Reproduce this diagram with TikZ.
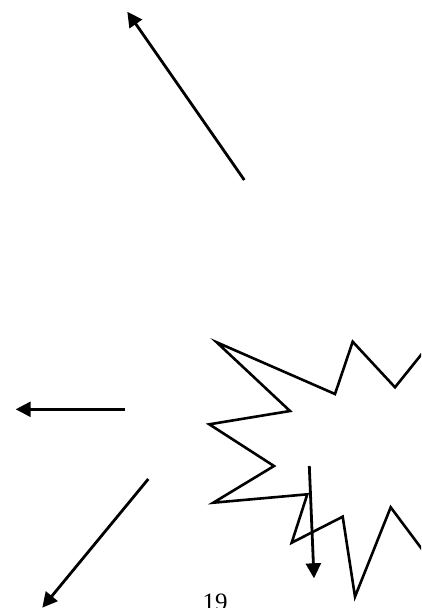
\documentclass[tikz,border=0pt]{standalone}
\usepackage{fontspec}
\setmainfont{Liberation Serif}
\usetikzlibrary{arrows.meta}

\begin{document}
\begin{tikzpicture}[
    x=1pt, y=-1pt,
    arrow/.style={-{Triangle[length=15pt, width=15pt]}, line width=2.8pt},
    burst/.style={draw, line width=2.6pt, line join=miter},
    pagenum/.style={font=\fontsize{25}{30}\selectfont, inner sep=0pt},
]
    \useasboundingbox (0,0) rectangle (421,608);
    \clip (0,0) rectangle (421,608);

    % Arrow ends
    \coordinate (upfrom) at (244.3,180);
    \coordinate (upto) at (127.3,11.7);
    \coordinate (leftfrom) at (125,409.3);
    \coordinate (leftto) at (15.7,409.3);
    \coordinate (diagfrom) at (148.3,479);
    \coordinate (diagto) at (42.3,607.7);
    \coordinate (downfrom) at (309.3,466);
    \coordinate (downto) at (314,578.3);

    % Starburst (runs off the right edge)
    \draw[burst] (216.7,342.3) -- (335,394) -- (352.7,341.7) -- (395,387.3)
        -- (445,325) -- (445,580) -- (390.7,507.3) -- (355,596.7)
        -- (342.7,516.7) -- (291.7,542.7) -- (307.3,494.3) -- (213.3,502.7)
        -- (274,466) -- (209.3,424.3) -- (290,411) -- cycle;

    % Page number
    \node[pagenum, anchor=base] (page) at (215,610.5) {19};

    % Arrows
    \draw[arrow] (upfrom) -- (upto);
    \draw[arrow] (leftfrom) -- (leftto);
    \draw[arrow] (diagfrom) -- (diagto);
    \draw[arrow] (downfrom) -- (downto);
\end{tikzpicture}
\end{document}
